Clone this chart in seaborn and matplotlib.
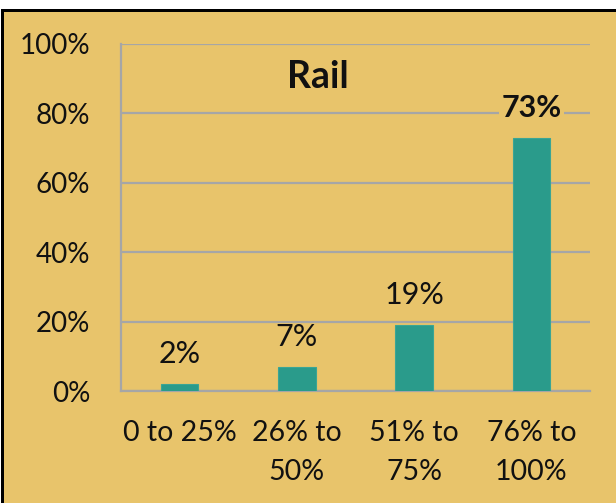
import matplotlib
matplotlib.use("Agg")
import matplotlib.pyplot as plt
from matplotlib.patches import Rectangle
import seaborn as sns
import pandas as pd

categories = ["0 to 25%", "26% to\n50%", "51% to\n75%", "76% to\n100%"]
values = [2, 7, 19, 73]
bold_labels = [False, False, False, True]
y_ticks = [0, 20, 40, 60, 80, 100]
y_tick_labels = ["0%", "20%", "40%", "60%", "80%", "100%"]
title = "Rail"

GOLD = "#E8C46B"
TEAL = "#2A9B8B"
GRID = "#A6A6A6"

sns.set_theme(style="white")
plt.rcParams["font.family"] = ["Lato", "DejaVu Sans"]

W, H = 616, 503
fig = plt.figure(figsize=(W / 100, H / 100), dpi=100)
fig.patch.set_facecolor(GOLD)

# white margin and black frame along the top and left edges
fig.add_artist(Rectangle((0, 1 - 9 / H), 1, 9 / H, transform=fig.transFigure,
                         facecolor="white", edgecolor="none", zorder=0))
fig.add_artist(Rectangle((0, 1 - 12 / H), 1, 3 / H, transform=fig.transFigure,
                         facecolor="black", edgecolor="none", zorder=0))
fig.add_artist(Rectangle((0, 0), 1 / W, 1, transform=fig.transFigure,
                         facecolor="white", edgecolor="none", zorder=0))
fig.add_artist(Rectangle((1 / W, 0), 3 / W, 1 - 9 / H, transform=fig.transFigure,
                         facecolor="black", edgecolor="none", zorder=0))

ax = fig.add_axes([121 / W, 1 - 391 / H, (590 - 121) / W, (391 - 44) / H])
ax.set_facecolor(GOLD)

df = pd.DataFrame({"category": categories, "value": values})
sns.barplot(data=df, x="category", y="value", color=TEAL, saturation=1,
            width=0.32, edgecolor="#3AA595", linewidth=0.8, ax=ax, zorder=3)

ax.set_ylim(0, 100)
ax.set_yticks(y_ticks)
ax.set_yticklabels(y_tick_labels, fontsize=20, color="#111111")
ax.tick_params(axis="y", length=0, pad=22)
ax.set_xticks(range(len(categories)))
ax.set_xticklabels(categories, fontsize=20.5, color="#111111", linespacing=1.6)
ax.tick_params(axis="x", length=0, pad=21)
ax.set_xlabel("")
ax.set_ylabel("")

ax.yaxis.grid(True, color=GRID, linewidth=1.6, zorder=0)
ax.set_axisbelow(True)
for side in ["top", "right"]:
    ax.spines[side].set_visible(False)
ax.spines["bottom"].set_color(GRID)
ax.spines["bottom"].set_linewidth(1.6)
ax.spines["left"].set_color(GRID)
ax.spines["left"].set_linewidth(1.6)

for i, (v, b) in enumerate(zip(values, bold_labels)):
    ax.annotate(f"{v}%", (i, v), xytext=(0, 15), textcoords="offset points",
                ha="center", va="baseline", fontsize=22,
                fontweight="bold" if b else "normal", color="#111111",
                bbox=dict(facecolor=GOLD, edgecolor="none", pad=1.5) if b else None,
                zorder=5)

ax.text(1.18, 90.5, title, ha="center", va="center", fontsize=27,
        fontweight="bold", color="#111111")

fig.savefig("out.png", dpi=100, facecolor=fig.get_facecolor())
